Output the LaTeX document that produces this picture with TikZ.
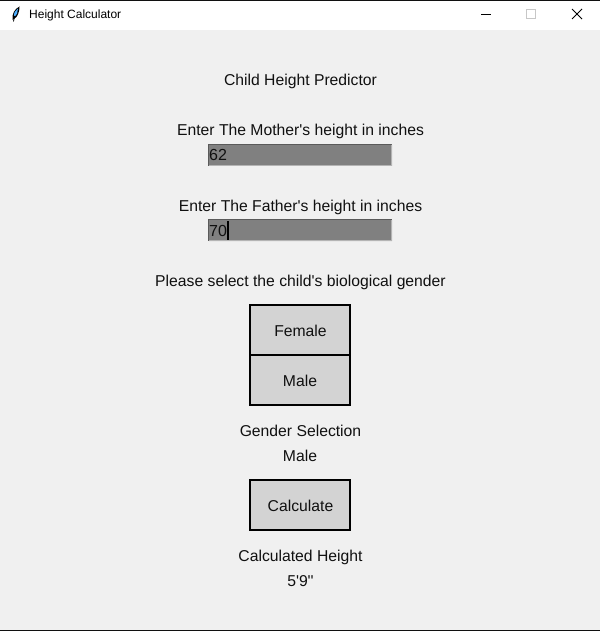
\documentclass[tikz,border=0pt]{standalone}
\usepackage{fontspec}
\newfontfamily\lblfont{Liberation Sans}
\definecolor{winbg}{HTML}{F0F0F0}
\definecolor{entrybg}{HTML}{808080}
\definecolor{btnbg}{HTML}{D3D3D3}
\definecolor{edgeD}{HTML}{5A5A5A}
\definecolor{edgeL}{HTML}{B4B4B4}
\definecolor{ink}{HTML}{101010}
\tikzset{
  x=1bp,y=-1bp,
  lbl/.style={text=ink,inner sep=0pt,anchor=base,font=\lblfont\fontsize{15.72bp}{18bp}\selectfont},
  entrytext/.style={text=ink,inner sep=0pt,anchor=base west,font=\lblfont\fontsize{16bp}{18bp}\selectfont},
  btn/.style={draw=black,line width=2bp,fill=btnbg,minimum width=100bp,minimum height=50bp,inner sep=0pt,outer sep=0pt},
}
\begin{document}
\begin{tikzpicture}
\useasboundingbox (0,0) rectangle (600,631);
\fill[winbg] (0,0) rectangle (600,631);
% title bar
\fill[white] (0,0) rectangle (600,30);
\fill[ink] (0,0) rectangle (600,1);
\fill[ink] (0,630) rectangle (600,631);
\fill[black] (12.5,20) .. controls (11.5,14) and (15,8.5) .. (19.5,6.5) .. controls (19.5,11) and (18,17) .. (14,19) -- cycle;
\fill[blue!45!cyan!70!white] (14,17) .. controls (13.5,13) and (15.5,10) .. (18,8.5) .. controls (18,12) and (17,15) .. (14,17) -- cycle;
\draw[black,line width=0.8bp] (13.5,21.5) -- (14.5,16);
\node[inner sep=0pt,anchor=base west,text=black,font=\lblfont\fontsize{12bp}{14bp}\selectfont] (wintitle) at (29,19) {Height Calculator};
\draw[black,line width=1bp] (481,14.5) -- (491,14.5);
\draw[black!22,line width=1bp] (526.5,9.5) rectangle (535.5,18.5);
\draw[black,line width=1bp] (572,9) -- (582,19) (582,9) -- (572,19);
% labels
\node[lbl] (heading) at (300.5,86) {Child Height Predictor};
\node[lbl] (mother) at (300.5,136) {Enter The Mother's height in inches};
\node[lbl] (father) at (300.5,211) {Enter The Father's height in inches};
\node[lbl] (gender) at (300.5,286) {Please select the child's biological gender};
% entries
\fill[edgeD] (208,144) rectangle (392,166);
\fill[edgeL] (209,165) rectangle (392,166) (391,145) rectangle (392,166);
\fill[entrybg] (209,145) rectangle (391,165);
\node[entrytext] (mval) at (209,161) {62};
\fill[edgeD] (208,219) rectangle (392,241);
\fill[edgeL] (209,240) rectangle (392,241) (391,220) rectangle (392,241);
\fill[entrybg] (209,220) rectangle (391,240);
\node[entrytext] (fval) at (209,236) {70};
\fill[black] (227,221) rectangle (229,240);
% buttons
\node[btn] (female) at (300,330) {};
\node[btn] (male) at (300,380) {};
\node[btn] (calc) at (300,505) {};
\node[lbl] (femaletxt) at (300.5,336) {Female};
\node[lbl] (maletxt) at (300,386) {Male};
\node[lbl] (calctxt) at (300.5,511) {Calculate};
\node[lbl] (gsel) at (300.5,436) {Gender Selection};
\node[lbl] (gval) at (300,461) {Male};
\node[lbl] (chead) at (300.5,561) {Calculated Height};
\node[lbl] (cval) at (300.5,586) {5'9''};
\end{tikzpicture}
\end{document}
